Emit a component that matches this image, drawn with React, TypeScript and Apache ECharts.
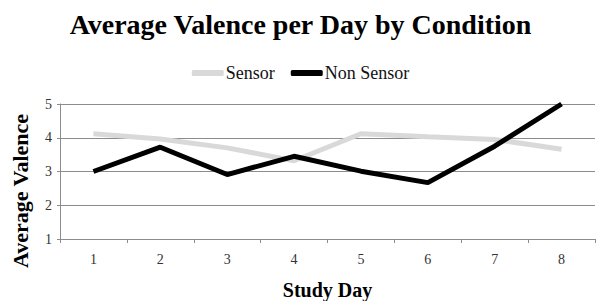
import React, { useEffect, useRef } from "react";
import * as echarts from "echarts";

const days = ["1", "2", "3", "4", "5", "6", "7", "8"];
const sensor = [4.12, 3.96, 3.7, 3.32, 4.12, 4.03, 3.95, 3.66];
const nonSensor = [3.0, 3.72, 2.91, 3.45, 3.01, 2.67, 3.75, 5.0];
const seriesNames = ["Sensor", "Non Sensor"];

const SERIF = "'Liberation Serif', 'DejaVu Serif', serif";

export default function App() {
  const ref = useRef<HTMLDivElement>(null);
  useEffect(() => {
    if (!ref.current) return;
    const chart = echarts.init(ref.current, null, { renderer: "svg" });
    chart.setOption({
      animation: false,
      backgroundColor: "#fff",
      title: {
        text: "Average Valence per Day by Condition",
        left: "center",
        top: 5,
        textStyle: { fontFamily: SERIF, fontWeight: "bold", fontSize: 28, color: "#000" },
      },
      legend: {
        top: 59,
        left: "center",
        itemWidth: 32,
        itemHeight: 6,
        itemGap: 16,
        icon: "roundRect",
        textStyle: { fontFamily: SERIF, fontSize: 18, color: "#111", padding: [0, 0, 0, -3] },
        data: seriesNames,
      },
      grid: { left: 60, right: 6, top: 104, bottom: 58 },
      xAxis: {
        type: "category",
        data: days,
        boundaryGap: true,
        name: "Study Day",
        nameLocation: "middle",
        nameGap: 41,
        nameTextStyle: { fontFamily: SERIF, fontWeight: "bold", fontSize: 20, color: "#000" },
        axisLine: { lineStyle: { color: "#8c8c8c", width: 1 } },
        axisTick: { show: true, alignWithLabel: false, length: 4, lineStyle: { color: "#8c8c8c" } },
        axisLabel: { fontFamily: SERIF, fontSize: 14, color: "#333", margin: 13 },
      },
      yAxis: {
        type: "value",
        min: 1,
        max: 5,
        interval: 1,
        axisLine: { show: true, lineStyle: { color: "#8c8c8c", width: 1 } },
        axisTick: { show: true, length: 3, lineStyle: { color: "#8c8c8c" } },
        splitLine: { lineStyle: { color: "#8c8c8c", width: 1 } },
        axisLabel: { fontFamily: SERIF, fontSize: 14, color: "#333", margin: 8 },
      },
      graphic: [
        {
          type: "text",
          x: 20,
          y: 191,
          rotation: Math.PI / 2,
          style: {
            text: "Average Valence",
            fontFamily: SERIF,
            fontWeight: "bold",
            fontSize: 22,
            fill: "#000",
            align: "center",
            verticalAlign: "middle",
          },
        },
      ],
      series: [
        {
          name: seriesNames[0],
          type: "line",
          data: sensor,
          showSymbol: false,
          symbol: "none",
          lineStyle: { color: "#d9d9d9", width: 5 },
          itemStyle: { color: "#d9d9d9" },
          z: 2,
        },
        {
          name: seriesNames[1],
          type: "line",
          data: nonSensor,
          showSymbol: false,
          symbol: "none",
          lineStyle: { color: "#000", width: 5 },
          itemStyle: { color: "#000" },
          z: 3,
        },
      ],
    });
    return () => chart.dispose();
  }, []);
  return <div ref={ref} style={{ width: 601, height: 301, position: "absolute", left: 0, top: 0 }} />;
}
